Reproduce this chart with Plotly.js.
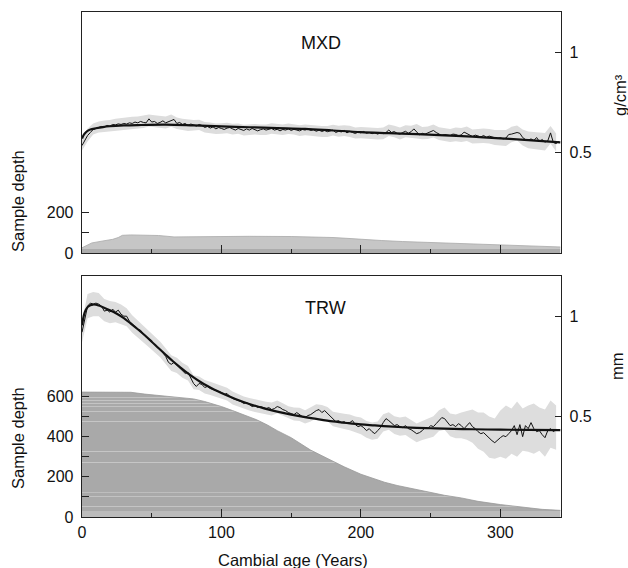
<!DOCTYPE html>
<html>
<head>
<meta charset="utf-8">
<script src="https://cdn.plot.ly/plotly-3.0.1.min.js"></script>
<style>html,body{margin:0;padding:0;background:#fff;}#chart{width:628px;height:568px;}</style>
</head>
<body>
<div id="chart"></div>
<script>
// ---------------- DATA ----------------
// Ages for the yearly mean curves (every 2 years) and bands (every 4 years)
const meanAges = Array.from({length: 172}, (_, i) => i * 2);
const bandAges = Array.from({length: 86}, (_, i) => i * 4);

// TRW (mm)
const trwMean = [0.92,0.99,1.05,1.065,1.06,1.065,1.06,1.05,1.025,1.03,1.02,1.035,1.02,1.03,1.01,1.0,1.0,0.975,0.96,0.95,
0.935,0.93,0.91,0.895,0.885,0.87,0.86,0.845,0.835,0.815,0.8,0.77,0.76,0.77,0.755,0.74,0.73,0.715,0.72,0.69,
0.665,0.65,0.665,0.66,0.645,0.65,0.64,0.635,0.63,0.625,0.62,0.61,0.615,0.6,0.59,0.585,0.58,0.575,0.565,0.57,
0.56,0.55,0.555,0.545,0.55,0.545,0.54,0.545,0.535,0.54,0.55,0.545,0.535,0.53,0.52,0.515,0.51,0.52,0.51,0.5,
0.495,0.505,0.51,0.52,0.53,0.535,0.52,0.53,0.515,0.5,0.485,0.475,0.48,0.47,0.475,0.465,0.47,0.48,0.46,0.45,
0.455,0.445,0.43,0.44,0.425,0.415,0.43,0.445,0.47,0.49,0.48,0.465,0.455,0.46,0.45,0.445,0.455,0.44,0.435,0.425,
0.415,0.42,0.43,0.445,0.44,0.455,0.45,0.465,0.48,0.495,0.49,0.47,0.455,0.46,0.45,0.465,0.455,0.44,0.455,0.47,
0.45,0.44,0.425,0.415,0.42,0.405,0.39,0.38,0.37,0.385,0.395,0.405,0.4,0.415,0.43,0.455,0.41,0.46,0.4,0.455,
0.44,0.47,0.44,0.425,0.43,0.41,0.395,0.43,0.44,0.425,0.435,0.43];
const trwUpper = [0.975,1.11,1.12,1.115,1.085,1.075,1.07,1.058,1.04,1.005,0.978,0.952,0.926,0.9,0.874,0.84,0.805,0.793,0.768,0.752,
0.706,0.7,0.682,0.674,0.663,0.652,0.644,0.625,0.612,0.6,0.592,0.585,0.58,0.574,0.57,0.58,0.567,0.552,0.545,0.544,
0.532,0.545,0.562,0.558,0.548,0.524,0.518,0.514,0.51,0.5,0.495,0.478,0.47,0.476,0.512,0.522,0.502,0.496,0.5,0.482,
0.466,0.478,0.49,0.502,0.532,0.545,0.515,0.51,0.52,0.528,0.535,0.52,0.52,0.5,0.49,0.53,0.555,0.54,0.575,0.54,
0.555,0.565,0.545,0.535,0.58,0.555];
const trwLower = [0.87,0.99,1.0,1.0,0.975,0.965,0.97,0.96,0.95,0.918,0.892,0.868,0.845,0.82,0.795,0.762,0.727,0.717,0.694,0.68,
0.636,0.632,0.615,0.607,0.598,0.588,0.58,0.56,0.55,0.537,0.53,0.523,0.518,0.512,0.506,0.516,0.504,0.49,0.481,0.478,
0.466,0.476,0.492,0.487,0.477,0.452,0.444,0.438,0.432,0.421,0.412,0.394,0.385,0.39,0.426,0.434,0.413,0.405,0.408,0.39,
0.372,0.383,0.392,0.4,0.428,0.435,0.402,0.392,0.392,0.385,0.37,0.34,0.325,0.295,0.29,0.3,0.29,0.315,0.3,0.33,
0.325,0.315,0.33,0.3,0.345,0.335];
const trwFitAges = [0,2,4,6,8,10,12,15,20,25,30,35,40,45,50,55,60,65,70,75,80,85,90,95,100,110,120,130,140,150,160,170,180,190,200,210,220,230,240,250,260,280,300,320,343];
const trwFit = [0.955,1.02,1.045,1.055,1.058,1.057,1.053,1.045,1.03,1.012,0.99,0.963,0.935,0.905,0.873,0.84,0.808,0.777,0.748,0.72,0.695,0.672,0.652,0.634,0.617,0.588,0.563,0.542,0.525,0.51,0.497,0.486,0.476,0.468,0.461,0.456,0.451,0.447,0.444,0.442,0.44,0.437,0.435,0.434,0.433];
const trwDepthAges = [0,10,20,30,35,45,55,69,80,88,95,100,108,117,125,133,140,150,164,175,188,200,210,217,226,236,248,260,272,284,300,310,320,330,343];
const trwDepth = [622,622,622,622,621,612,605,597,588,575,562,550,530,508,485,458,430,395,333,295,250,213,190,173,157,142,125,108,95,78,62,54,45,38,33];

// MXD (g/cm³)
const mxdMean = [0.535,0.56,0.585,0.6,0.615,0.62,0.625,0.63,0.628,0.635,0.632,0.64,0.638,0.643,0.64,0.645,0.642,0.648,0.645,0.652,
0.648,0.655,0.65,0.648,0.668,0.652,0.655,0.645,0.65,0.658,0.648,0.655,0.66,0.665,0.645,0.65,0.64,0.645,0.635,0.642,
0.638,0.632,0.64,0.635,0.625,0.63,0.622,0.628,0.618,0.625,0.62,0.615,0.622,0.625,0.618,0.612,0.62,0.615,0.61,0.618,
0.612,0.62,0.615,0.608,0.614,0.618,0.612,0.618,0.62,0.612,0.616,0.608,0.615,0.612,0.618,0.61,0.616,0.612,0.608,0.615,
0.612,0.618,0.61,0.614,0.606,0.612,0.605,0.61,0.604,0.608,0.612,0.6,0.606,0.603,0.61,0.598,0.606,0.6,0.595,0.602,
0.598,0.605,0.596,0.6,0.594,0.598,0.592,0.598,0.594,0.6,0.612,0.6,0.605,0.595,0.592,0.6,0.606,0.596,0.604,0.618,
0.6,0.588,0.596,0.592,0.598,0.605,0.61,0.6,0.594,0.585,0.59,0.588,0.585,0.592,0.59,0.584,0.588,0.602,0.594,0.584,
0.58,0.587,0.582,0.578,0.585,0.576,0.582,0.579,0.575,0.57,0.574,0.568,0.572,0.59,0.592,0.595,0.6,0.596,0.575,0.565,
0.562,0.568,0.56,0.575,0.555,0.565,0.552,0.558,0.598,0.55,0.545,0.555];
const mxdUpper = [0.575,0.62,0.645,0.655,0.66,0.662,0.668,0.672,0.675,0.678,0.68,0.685,0.69,0.686,0.682,0.68,0.69,0.675,0.668,0.664,
0.662,0.663,0.652,0.65,0.645,0.646,0.648,0.644,0.645,0.638,0.64,0.642,0.64,0.64,0.646,0.642,0.64,0.645,0.642,0.636,
0.64,0.637,0.634,0.632,0.632,0.638,0.634,0.636,0.634,0.625,0.627,0.626,0.624,0.622,0.625,0.64,0.634,0.625,0.636,0.634,
0.642,0.627,0.63,0.64,0.626,0.622,0.618,0.625,0.622,0.63,0.615,0.617,0.62,0.618,0.612,0.612,0.612,0.628,0.635,0.615,
0.605,0.602,0.6,0.598,0.632,0.595];
const mxdLower = [0.51,0.555,0.59,0.6,0.602,0.605,0.61,0.612,0.615,0.618,0.62,0.622,0.63,0.626,0.622,0.62,0.628,0.618,0.612,0.608,
0.61,0.612,0.6,0.596,0.592,0.594,0.596,0.59,0.594,0.585,0.588,0.59,0.588,0.587,0.594,0.59,0.588,0.592,0.59,0.582,
0.586,0.584,0.58,0.578,0.577,0.585,0.579,0.582,0.578,0.57,0.571,0.569,0.566,0.565,0.566,0.582,0.576,0.565,0.576,0.574,
0.57,0.566,0.567,0.575,0.563,0.558,0.553,0.556,0.553,0.558,0.545,0.546,0.548,0.545,0.538,0.535,0.533,0.552,0.56,0.535,
0.522,0.518,0.515,0.51,0.545,0.505];
const mxdFitAges = [0,1,2,4,6,10,15,20,30,40,60,80,100,120,140,160,180,200,220,240,260,280,300,320,343];
const mxdFit = [0.57,0.585,0.595,0.608,0.615,0.621,0.627,0.631,0.635,0.637,0.639,0.635,0.63,0.626,0.622,0.618,0.61,0.602,0.597,0.592,0.586,0.579,0.571,0.562,0.551];
const mxdDepthAges = [0,3,7,15,22,26,29,35,45,55,66,80,100,120,150,170,180,190,200,215,230,250,270,300,320,343];
const mxdDepth = [26,35,50,60,68,77,88,90,89,87,80,81,83,83,82,80,77,73,68,62,57,52,47,42,37,30];

// ---------------- STYLE ----------------
const FONT = 'Liberation Sans, Arial, Helvetica, sans-serif';
const BAND = '#dddddd';
// light streaks inside the TRW sample-depth area (depth levels, style only)
const trwStreaks = [[0,32,'#bcbcbc'],[52,56,'#c4c4c4'],[68,72,'#c4c4c4'],[88,92,'#c4c4c4'],[100,104,'#c2c2c2'],[118,122,'#c4c4c4'],
  [271,275,'#c6c6c6'],[323,327,'#c6c6c6'],[473,477,'#c6c6c6'],[523,527,'#c4c4c4'],[548,552,'#c2c2c2'],[563,567,'#c4c4c4'],[578,582,'#c4c4c4'],[595,599,'#c2c2c2']];
function streakScale(streaks, base, top) {
  const cs = [[0, base]];
  const eps = 1e-4;
  streaks.forEach(s => {
    const a = s[0] / top, b = s[1] / top;
    if (a > eps) cs.push([a - eps, base]);
    cs.push([Math.max(a, cs[cs.length-1][0] + eps), s[2]]);
    cs.push([b, s[2]]);
    cs.push([b + eps, base]);
  });
  cs.push([1, base]);
  return cs;
}

const traces = [
  // ---- TRW panel (bottom) ----
  {x: trwDepthAges, y: trwDepth, xaxis: 'x', yaxis: 'y', type: 'scatter', mode: 'lines', fill: 'tozeroy',
   line: {color: '#999', width: 0.8}, fillcolor: '#a9a9a9',
   fillgradient: {type: 'vertical', start: 0, stop: 640, colorscale: streakScale(trwStreaks, '#a9a9a9', 640)},
   hoverinfo: 'skip', showlegend: false},
  {x: bandAges, y: trwLower, xaxis: 'x', yaxis: 'y2', mode: 'lines', line: {width: 0, color: BAND}, hoverinfo: 'skip', showlegend: false},
  {x: bandAges, y: trwUpper, xaxis: 'x', yaxis: 'y2', mode: 'lines', line: {width: 0, color: BAND}, fill: 'tonexty', fillcolor: BAND, hoverinfo: 'skip', showlegend: false},
  {x: meanAges, y: trwMean, xaxis: 'x', yaxis: 'y2', mode: 'lines', line: {width: 1, color: '#111'}, showlegend: false},
  {x: trwFitAges, y: trwFit, xaxis: 'x', yaxis: 'y2', mode: 'lines', line: {width: 2.2, color: '#111', shape: 'spline'}, showlegend: false},
  // ---- MXD panel (top) ----
  {x: mxdDepthAges, y: mxdDepth, xaxis: 'x2', yaxis: 'y3', type: 'scatter', mode: 'lines', fill: 'tozeroy',
   line: {color: '#aaa', width: 0.8}, fillcolor: '#c6c6c6',
   fillgradient: {type: 'vertical', start: 0, stop: 100, colorscale: [[0,'#acacac'],[0.22,'#acacac'],[0.2201,'#c6c6c6'],[1,'#c6c6c6']]},
   hoverinfo: 'skip', showlegend: false},
  {x: bandAges, y: mxdLower, xaxis: 'x2', yaxis: 'y4', mode: 'lines', line: {width: 0, color: BAND}, hoverinfo: 'skip', showlegend: false},
  {x: bandAges, y: mxdUpper, xaxis: 'x2', yaxis: 'y4', mode: 'lines', line: {width: 0, color: BAND}, fill: 'tonexty', fillcolor: BAND, hoverinfo: 'skip', showlegend: false},
  {x: meanAges, y: mxdMean, xaxis: 'x2', yaxis: 'y4', mode: 'lines', line: {width: 1, color: '#111'}, showlegend: false},
  {x: mxdFitAges, y: mxdFit, xaxis: 'x2', yaxis: 'y4', mode: 'lines', line: {width: 2.2, color: '#111', shape: 'spline'}, showlegend: false}
];

const axLine = {showline: true, linecolor: '#222', linewidth: 1.3, showgrid: false, zeroline: false,
  tickcolor: '#222', tickwidth: 1, tickfont: {family: FONT, size: 16, color: '#111'}};
const xCommon = Object.assign({}, axLine, {range: [0, 343.5], tickvals: [0, 100, 200, 300], ticks: 'inside', ticklen: 8, mirror: true,
  minor: {tickvals: [50, 150, 250], ticks: 'inside', ticklen: 4, tickcolor: '#222', tickwidth: 1}});
const TITLE_FONT = {family: FONT, size: 16.5, color: '#111'};
const ann = (text, x, y, extra) => Object.assign({text: text, xref: 'paper', yref: 'paper', x: x, y: y,
  xanchor: 'center', yanchor: 'middle', showarrow: false, font: TITLE_FONT}, extra || {});

const layout = {
  width: 628, height: 568,
  margin: {l: 82, r: 67, t: 12, b: 51},
  paper_bgcolor: '#fff', plot_bgcolor: '#fff',
  font: {family: FONT, size: 16, color: '#111'},
  showlegend: false,
  xaxis: Object.assign({}, xCommon, {anchor: 'y', domain: [0, 1]}),
  xaxis2: Object.assign({}, xCommon, {anchor: 'y3', domain: [0, 1], showticklabels: false}),
  yaxis: Object.assign({}, axLine, {domain: [0, 0.4772], anchor: 'x', range: [0, 1200], tickvals: [0,100,200,300,400,500,600],
    ticktext: ['0','','200','','400','','600'], ticks: 'inside', ticklen: 7, mirror: true, ticklabelstandoff: 4}),
  yaxis2: Object.assign({}, axLine, {overlaying: 'y', anchor: 'x', side: 'right', range: [0, 1.2], tickvals: [0.5, 1],
    ticktext: ['0.5', '1'], ticks: 'inside', ticklen: 6, ticklabelstandoff: 4}),
  yaxis3: Object.assign({}, axLine, {domain: [0.5228, 1], anchor: 'x2', range: [0, 1200], tickvals: [0,100,200],
    ticktext: ['0','','200'], ticks: 'inside', ticklen: 7, mirror: true, ticklabelstandoff: 4}),
  yaxis4: Object.assign({}, axLine, {overlaying: 'y3', anchor: 'x2', side: 'right', range: [0, 1.2], tickvals: [0.5, 1],
    ticktext: ['0.5', '1'], ticks: 'inside', ticklen: 6, ticklabelstandoff: 4}),
  annotations: [
    ann('MXD', 0.498, 0.9386, {font: {family: FONT, size: 18, color: '#111'}}),
    ann('TRW', 0.508, 0.4139, {font: {family: FONT, size: 18, color: '#111'}}),
    ann('Sample depth', -0.1336, 0.6257, {textangle: -90}),
    ann('Sample depth', -0.1336, 0.1564, {textangle: -90}),
    ann('g/cm³', 1.123, 0.8356, {textangle: -90}),
    ann('mm', 1.117, 0.299, {textangle: -90}),
    ann('Cambial age (Years)', 0.4405, -0.0851)
  ]
};

Plotly.newPlot('chart', traces, layout, {staticPlot: true, displayModeBar: false});
</script>
</body>
</html>
